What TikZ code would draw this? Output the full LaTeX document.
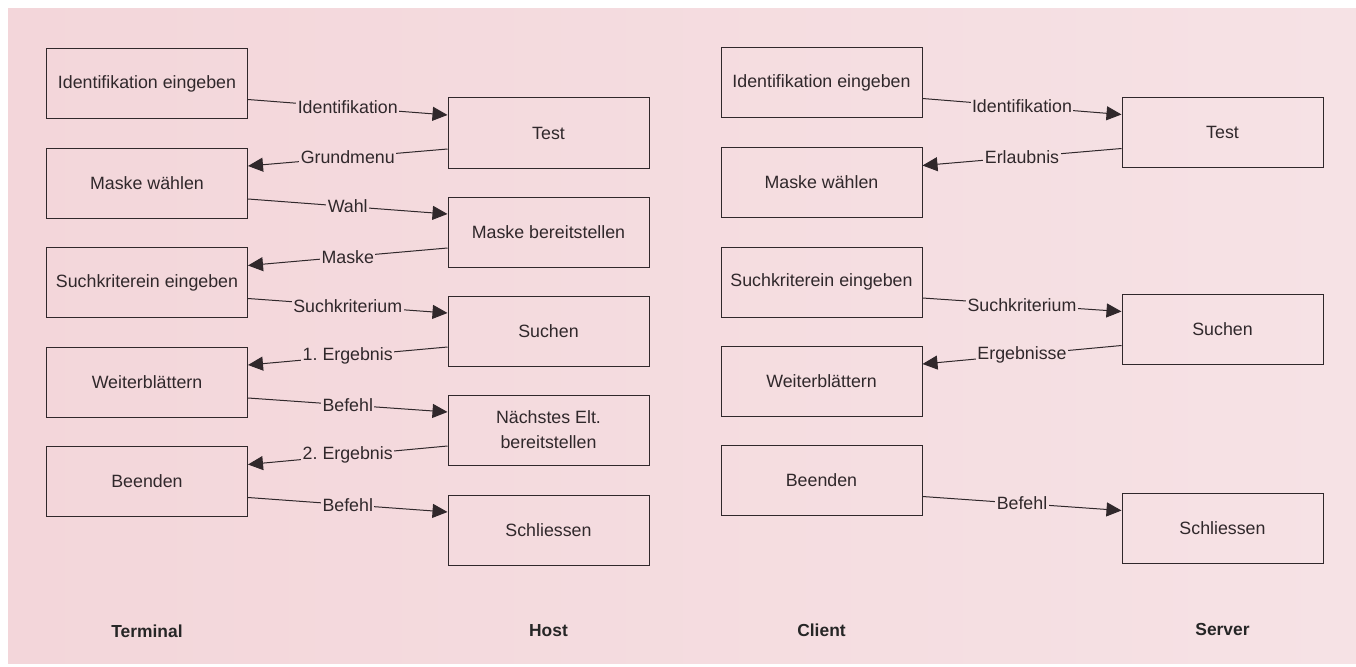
\documentclass[tikz,border=0pt]{standalone}
\usepackage{fontspec}
\setmainfont{Liberation Sans}
\usetikzlibrary{arrows.meta}
\frenchspacing
\definecolor{bgL}{HTML}{F3D6DA}
\definecolor{bgR}{HTML}{F6E2E5}
\definecolor{ink}{HTML}{30282B}
\colorlet{bgA}{bgR!25!bgL}
\colorlet{bgB}{bgR!75!bgL}
\tikzset{
  box/.style={draw=ink, line width=1pt, minimum width=201pt, minimum height=70pt,
    inner sep=0pt, align=center, text=ink, font=\fontsize{17.8}{25}\selectfont},
  msg/.style={draw=ink, line width=1pt, -{Triangle[length=15pt,width=14pt]}},
  lbl/.style={inner sep=1.5pt, text=ink, font=\fontsize{17.8}{21}\selectfont},
  lblA/.style={lbl, fill=bgA},
  lblB/.style={lbl, fill=bgB},
  role/.style={text=black!85, font=\bfseries\fontsize{17.4}{21}\selectfont}
}
\begin{document}
\begin{tikzpicture}[x=1pt,y=-1pt]
\useasboundingbox (0,0) rectangle (1356,666);
\fill[white] (0,0) rectangle (1356,666);
\shade[left color=bgL, right color=bgR] (8,9) rectangle (1356,663);

% ---------------- Terminal / Host ----------------
\node[box] (t1) at (147,83.5) {Identifikation eingeben};
\node[box] (t2) at (147,183) {Maske wählen};
\node[box] (t3) at (147,282.5) {Suchkriterein eingeben};
\node[box] (t4) at (147,382) {Weiterblättern};
\node[box] (t5) at (147,481.5) {Beenden};

\node[box] (h1) at (548.5,133) {Test};
\node[box] (h2) at (548.5,232) {Maske bereitstellen};
\node[box] (h3) at (548.5,331) {Suchen};
\node[box] (h4) at (548.5,430) {Nächstes Elt.\\bereitstellen};
\node[box] (h5) at (548.5,530) {Schliessen};

\draw[msg] ([yshift=-16pt]t1.east) -- node[lblA]{Identifikation} ([yshift=18pt]h1.west);
\draw[msg] ([yshift=-16pt]h1.west) -- node[lblA]{Grundmenu} ([yshift=17pt]t2.east);
\draw[msg] ([yshift=-16pt]t2.east) -- node[lblA]{Wahl} ([yshift=18pt]h2.west);
\draw[msg] ([yshift=-16pt]h2.west) -- node[lblA]{Maske} ([yshift=17pt]t3.east);
\draw[msg] ([yshift=-16pt]t3.east) -- node[lblA]{Suchkriterium} ([yshift=18pt]h3.west);
\draw[msg] ([yshift=-16pt]h3.west) -- node[lblA]{1. Ergebnis} ([yshift=17pt]t4.east);
\draw[msg] ([yshift=-16pt]t4.east) -- node[lblA]{Befehl} ([yshift=18pt]h4.west);
\draw[msg] ([yshift=-16pt]h4.west) -- node[lblA]{2. Ergebnis} ([yshift=17pt]t5.east);
\draw[msg] ([yshift=-16pt]t5.east) -- node[lblA]{Befehl} ([yshift=18pt]h5.west);

\node[role] (terminal) at (147,631) {Terminal};
\node[role] (host) at (548.5,631) {Host};

% ---------------- Client / Server ----------------
\node[box] (c1) at (821.5,82.5) {Identifikation eingeben};
\node[box] (c2) at (821.5,182.5) {Maske wählen};
\node[box] (c3) at (821.5,282) {Suchkriterein eingeben};
\node[box] (c4) at (821.5,381) {Weiterblättern};
\node[box] (c5) at (821.5,480.5) {Beenden};

\node[box] (s1) at (1222.5,132.5) {Test};
\node[box] (s3) at (1222.5,329.5) {Suchen};
\node[box] (s5) at (1222.5,528.5) {Schliessen};

\draw[msg] ([yshift=-16pt]c1.east) -- node[lblB]{Identifikation} ([yshift=18pt]s1.west);
\draw[msg] ([yshift=-16pt]s1.west) -- node[lblB]{Erlaubnis} ([yshift=17pt]c2.east);
\draw[msg] ([yshift=-16pt]c3.east) -- node[lblB]{Suchkriterium} ([yshift=18pt]s3.west);
\draw[msg] ([yshift=-16pt]s3.west) -- node[lblB]{Ergebnisse} ([yshift=17pt]c4.east);
\draw[msg] ([yshift=-16pt]c5.east) -- node[lblB]{Befehl} ([yshift=18pt]s5.west);

\node[role] (client) at (821.5,630) {Client};
\node[role] (server) at (1222.5,630) {Server};
\end{tikzpicture}
\end{document}
